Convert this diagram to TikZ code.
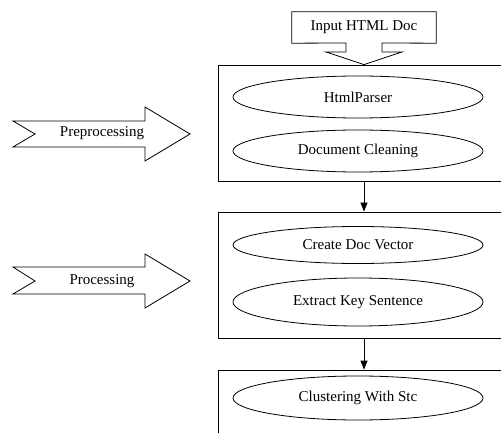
\documentclass[tikz,border=0pt]{standalone}
\usepackage{fontspec}
\setmainfont{Liberation Serif}
\usetikzlibrary{shapes.geometric}
\usetikzlibrary{arrows.meta}

\begin{document}
\begin{tikzpicture}[x=1pt,y=-1pt,
  every node/.style={font=\fontsize{15}{18}\selectfont},
  stage/.style={draw,line width=0.8pt,minimum width=292pt},
  task/.style={draw,ellipse,line width=0.8pt,minimum width=250pt,minimum height=42pt,inner sep=0pt},
  flow/.style={-{Triangle[length=9pt,width=7pt]},line width=0.8pt}]
  \clip (0,0) rectangle (501,433);

  % stage boxes
  \node[stage,minimum height=116pt] (prep) at (364,123) {};
  \node[stage,minimum height=126pt] (proc) at (364,275) {};
  \node[stage,minimum height=90pt] (clus) at (364,415) {};

  \node[task] (parser) at (358,97) {HtmlParser};
  \node[task] (clean) at (358,151) {Document Cleaning};
  \node[task,minimum height=37pt] (vector) at (358,245) {Create Doc Vector};
  \node[task,minimum height=48pt] (keysent) at (358,302) {Extract Key Sentence};
  \node[task,minimum height=44pt] (stc) at (358,398) {Clustering With Stc};

  \draw[flow] (prep.south) -- (proc.north);
  \draw[flow] (proc.south) -- (clus.north);

  % input callout
  \node[minimum width=144pt,minimum height=31pt] (input) at (364,27.5) {Input HTML Doc};
  \draw[line width=0.8pt] (input.south west) -- (input.north west) -- (input.north east)
    -- (input.south east) -- (382,43) -- (382,52) -- (402,52) -- (prep.north)
    -- (326,52) -- (346,52) -- (346,43) -- cycle;

  % side arrows
  \draw[line width=0.8pt] (13,121) -- (145,121) -- (145,107) -- (190,134) -- (145,161)
    -- (145,147) -- (13,147) -- (35,134) -- cycle;
  \node (preproc) at (102,133) {Preprocessing};

  \draw[line width=0.8pt] (13,267) -- (145,267) -- (145,254) -- (190,281) -- (145,308)
    -- (145,294) -- (13,294) -- (35,281) -- cycle;
  \node (process) at (102,281) {Processing};

\end{tikzpicture}
\end{document}
